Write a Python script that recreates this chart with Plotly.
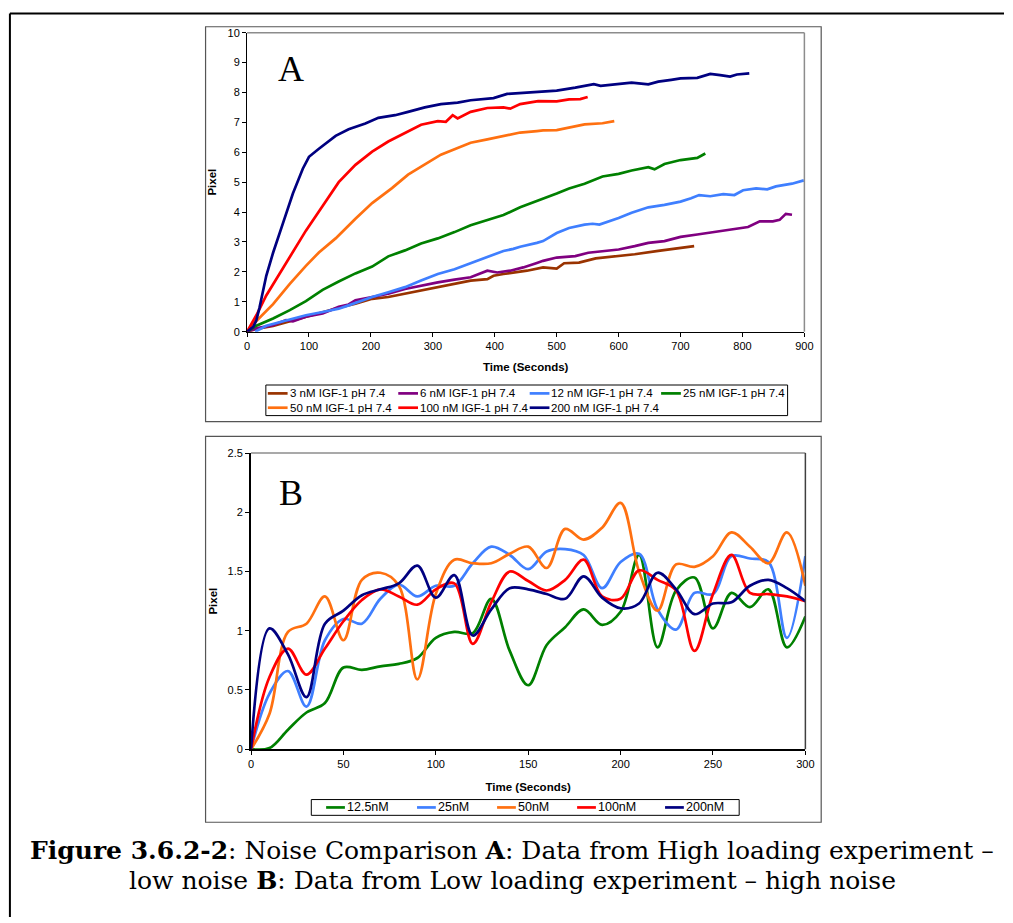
import plotly.graph_objects as go

W, H = 1013, 923

# ---------------- Panel A data ----------------
names_A = ["3 nM IGF-1 pH 7.4", "6 nM IGF-1 pH 7.4", "12 nM IGF-1 pH 7.4", "25 nM IGF-1 pH 7.4",
           "50 nM IGF-1 pH 7.4", "100 nM IGF-1 pH 7.4", "200 nM IGF-1 pH 7.4"]
colors_A = ["#993300", "#800080", "#3F7FFF", "#008000", "#FF7010", "#FF0000", "#000080"]

t_3nM = [0, 15, 42, 69, 95, 122, 148, 175, 202, 228, 255, 281, 308, 335, 361, 388, 398, 414, 441, 452,
         478, 500, 512, 536, 563, 600, 626, 664, 700, 722]
v_3nM = [0, 0.09, 0.19, 0.35, 0.5, 0.64, 0.8, 0.94, 1.1, 1.16, 1.27, 1.38, 1.49, 1.6, 1.71, 1.76, 1.87,
         1.93, 2.0, 2.04, 2.15, 2.11, 2.29, 2.31, 2.45, 2.53, 2.59, 2.7, 2.79, 2.86]

t_6nM = [0, 15, 42, 63, 74, 95, 122, 148, 164, 175, 202, 228, 255, 281, 308, 335, 361, 388, 404, 425,
         446, 468, 478, 500, 530, 551, 583, 600, 626, 648, 674, 700, 727, 748, 780, 809, 828, 849, 860,
         870, 880]
v_6nM = [0, 0.11, 0.22, 0.39, 0.35, 0.5, 0.61, 0.83, 0.91, 1.05, 1.16, 1.27, 1.43, 1.54, 1.65, 1.74,
         1.82, 2.04, 1.98, 2.04, 2.15, 2.3, 2.37, 2.48, 2.53, 2.64, 2.71, 2.75, 2.86, 2.97, 3.03, 3.17,
         3.25, 3.32, 3.41, 3.5, 3.69, 3.69, 3.74, 3.94, 3.91]

t_12nM = [13, 31, 69, 95, 122, 148, 164, 202, 228, 255, 281, 308, 335, 361, 388, 414, 430, 441, 468,
          478, 500, 520, 545, 558, 569, 600, 621, 648, 674, 700, 717, 730, 748, 769, 787, 801, 822,
          840, 854, 880, 899]
v_12nM = [0, 0.2, 0.41, 0.55, 0.66, 0.77, 0.88, 1.16, 1.32, 1.49, 1.71, 1.93, 2.09, 2.29, 2.48, 2.70,
          2.77, 2.84, 2.97, 3.03, 3.30, 3.47, 3.58, 3.61, 3.58, 3.8, 3.98, 4.16, 4.24, 4.35, 4.46, 4.57,
          4.53, 4.6, 4.57, 4.73, 4.79, 4.76, 4.86, 4.95, 5.06]

t_25nM = [0, 15, 42, 69, 95, 122, 148, 175, 202, 228, 255, 281, 308, 335, 361, 388, 414, 441, 460,
          478, 500, 520, 545, 574, 600, 621, 648, 658, 674, 700, 727, 740]
v_25nM = [0, 0.2, 0.44, 0.72, 1.02, 1.4, 1.68, 1.95, 2.18, 2.52, 2.72, 2.95, 3.12, 3.33, 3.56, 3.72,
          3.9, 4.16, 4.3, 4.44, 4.62, 4.79, 4.95, 5.19, 5.28, 5.39, 5.5, 5.43, 5.61, 5.74, 5.81, 5.96]

t_50nM = [0, 15, 42, 69, 95, 116, 143, 175, 202, 234, 260, 287, 313, 335, 361, 388, 414, 441, 468,
          478, 500, 521, 545, 574, 593]
v_50nM = [0, 0.36, 0.92, 1.6, 2.2, 2.65, 3.12, 3.78, 4.3, 4.8, 5.25, 5.6, 5.92, 6.1, 6.32, 6.43, 6.55,
          6.66, 6.71, 6.73, 6.74, 6.82, 6.93, 6.97, 7.04]

t_100nM = [0, 15, 31, 47, 69, 95, 122, 148, 175, 202, 228, 255, 281, 308, 321, 332, 340, 361, 388,
           414, 425, 441, 470, 500, 520, 538, 550]
v_100nM = [0, 0.55, 1.21, 1.76, 2.53, 3.38, 4.2, 5.0, 5.58, 6.02, 6.36, 6.64, 6.92, 7.04, 7.02, 7.24,
           7.13, 7.35, 7.48, 7.5, 7.46, 7.61, 7.71, 7.70, 7.77, 7.78, 7.85]

t_200nM = [0, 10, 15, 20, 31, 42, 58, 74, 90, 100, 116, 143, 164, 191, 212, 239, 260, 287, 313, 340,
           361, 398, 420, 441, 468, 500, 530, 541, 560, 571, 600, 621, 648, 664, 685, 700, 727, 748,
           764, 780, 791, 811]
v_200nM = [0, 0.16, 0.38, 0.8, 1.87, 2.64, 3.63, 4.62, 5.45, 5.85, 6.12, 6.55, 6.77, 6.96, 7.15, 7.24,
           7.35, 7.5, 7.61, 7.66, 7.74, 7.81, 7.95, 7.98, 8.03, 8.06, 8.16, 8.2, 8.28, 8.22, 8.28, 8.33,
           8.27, 8.36, 8.42, 8.47, 8.49, 8.62, 8.58, 8.53, 8.6, 8.64]

times_A = [t_3nM, t_6nM, t_12nM, t_25nM, t_50nM, t_100nM, t_200nM]
values_A = [v_3nM, v_6nM, v_12nM, v_25nM, v_50nM, v_100nM, v_200nM]

# ---------------- Panel B data ----------------
names_B = ["12.5nM", "25nM", "50nM", "100nM", "200nM"]
colors_B = ["#008000", "#3F7FFF", "#FF7010", "#FF0000", "#000080"]
t_B = [0, 10, 20, 30, 40, 50, 60, 70, 80, 90, 100, 110, 120, 130, 140, 150, 160, 170, 180, 190, 200,
       210, 220, 230, 240, 250, 260, 270, 280, 290, 300]
v_12_5nM = [0, 0.01, 0.165, 0.31, 0.39, 0.69, 0.67, 0.70, 0.72, 0.77, 0.94, 0.99, 0.98, 1.27, 0.83,
            0.54, 0.88, 1.03, 1.18, 1.05, 1.16, 1.64, 0.86, 1.34, 1.45, 1.02, 1.32, 1.20, 1.35, 0.86, 1.12]
v_25nM_B = [0, 0.47, 0.66, 0.36, 0.92, 1.10, 1.06, 1.27, 1.39, 1.29, 1.38, 1.38, 1.57, 1.71, 1.64,
            1.52, 1.67, 1.69, 1.64, 1.36, 1.58, 1.65, 1.18, 1.01, 1.32, 1.31, 1.63, 1.61, 1.58, 0.94, 1.63]
v_50nM_B = [0, 0.30, 0.99, 1.06, 1.29, 0.92, 1.43, 1.49, 1.38, 0.59, 1.31, 1.60, 1.57, 1.57, 1.65,
            1.71, 1.53, 1.86, 1.77, 1.87, 2.08, 1.50, 1.17, 1.56, 1.54, 1.63, 1.83, 1.71, 1.57, 1.83, 1.38]
v_100nM_B = [0, 0.61, 0.85, 0.63, 0.85, 1.08, 1.26, 1.35, 1.29, 1.22, 1.35, 1.40, 0.89, 1.24, 1.50,
             1.42, 1.34, 1.43, 1.60, 1.29, 1.27, 1.51, 1.43, 1.34, 0.83, 1.31, 1.64, 1.32, 1.31, 1.29, 1.25]
v_200nM_B = [0, 1.02, 0.80, 0.44, 1.06, 1.17, 1.30, 1.35, 1.40, 1.55, 1.28, 1.47, 0.96, 1.18, 1.36,
             1.35, 1.31, 1.27, 1.46, 1.28, 1.19, 1.23, 1.49, 1.35, 1.14, 1.23, 1.24, 1.38, 1.43, 1.36, 1.25]
values_B = [v_12_5nM, v_25nM_B, v_50nM_B, v_100nM_B, v_200nM_B]

caption_1 = "<b>Figure 3.6.2-2</b>: Noise Comparison <b>A</b>: Data from High loading experiment –"
caption_2 = "low noise <b>B</b>: Data from Low loading experiment – high noise"


def px(x):
    return x / W


def py(y):
    return 1 - y / H


fig = go.Figure()
for t, v, n, c in zip(times_A, values_A, names_A, colors_A):
    fig.add_trace(go.Scatter(x=t, y=v, name=n, mode="lines", line=dict(color=c, width=2.7),
                             xaxis="x", yaxis="y", showlegend=False))
for v, n, c in zip(values_B, names_B, colors_B):
    fig.add_trace(go.Scatter(x=t_B, y=v, name=n, mode="lines",
                             line=dict(color=c, width=2.7, shape="spline", smoothing=1.0),
                             xaxis="x2", yaxis="y2", showlegend=False))

tickfont = dict(family="Liberation Sans, Arial", size=11, color="black")
titlefont = dict(family="Liberation Sans, Arial", size=11.5, color="black")

# plot area pixel boxes
A = dict(x0=247, x1=811, y0=27, y1=330)
B = dict(x0=251, x1=812, y0=453, y1=753)

common_axis = dict(showgrid=False, zeroline=False, showline=True, linecolor="black",
                   ticks="outside", ticklen=4, tickcolor="black", tickfont=tickfont)

fig.update_layout(
    width=W, height=H,
    margin=dict(l=0, r=0, t=0, b=0),
    paper_bgcolor="white", plot_bgcolor="white",
    xaxis=dict(domain=[px(A["x0"]), px(A["x1"])], range=[0, 900], dtick=100, anchor="y",
               linewidth=1, title=dict(text="<b>Time (Seconds)</b>", font=titlefont, standoff=12),
               **common_axis),
    yaxis=dict(domain=[py(A["y1"]), py(A["y0"])], range=[0, 10], dtick=1, anchor="x",
               linewidth=1, title=dict(text="<b>Pixel</b>", font=titlefont, standoff=8),
               **common_axis),
    xaxis2=dict(domain=[px(B["x0"]), px(B["x1"])], range=[0, 300], dtick=50, anchor="y2",
                linewidth=2, title=dict(text="<b>Time (Seconds)</b>", font=titlefont, standoff=14),
                **common_axis),
    yaxis2=dict(domain=[py(B["y1"]), py(B["y0"])], range=[0, 2.5], dtick=0.5, anchor="x2",
                linewidth=2, title=dict(text="<b>Pixel</b>", font=titlefont, standoff=8),
                **common_axis),
)

shapes = []
# outer page border (left & top)
shapes.append(dict(type="line", xref="paper", yref="paper", x0=px(7), x1=1, y0=py(7.5), y1=py(7.5),
                   line=dict(color="black", width=2)))
shapes.append(dict(type="line", xref="paper", yref="paper", x0=px(7), x1=px(7), y0=py(7.5), y1=0,
                   line=dict(color="black", width=2)))
# chart frames
for (x0, y0, x1, y1) in [(205, 21, 828, 421), (205, 436, 828, 827)]:
    shapes.append(dict(type="rect", xref="paper", yref="paper", x0=px(x0), x1=px(x1), y0=py(y0),
                       y1=py(y1), line=dict(color="#555555", width=1.2), layer="below"))
# plot area borders (top/right)
for box, rc in [(A, "#8C8C8C"), (B, "#404040")]:
    shapes.append(dict(type="line", xref="paper", yref="paper", x0=px(box["x0"]), x1=px(box["x1"]),
                       y0=py(box["y0"]), y1=py(box["y0"]), line=dict(color="#8C8C8C", width=1.5)))
    shapes.append(dict(type="line", xref="paper", yref="paper", x0=px(box["x1"]), x1=px(box["x1"]),
                       y0=py(box["y0"]), y1=py(box["y1"]), line=dict(color=rc, width=1.5)))

# legend boxes
shapes.append(dict(type="rect", xref="paper", yref="paper", x0=px(266), x1=px(794), y0=py(384),
                   y1=py(415), line=dict(color="black", width=1)))
shapes.append(dict(type="rect", xref="paper", yref="paper", x0=px(312), x1=px(745), y0=py(804),
                   y1=py(820), line=dict(color="black", width=1)))

annotations = []
legfont_A = dict(family="Liberation Sans, Arial", size=11.5, color="black")
legfont_B = dict(family="Liberation Sans, Arial", size=12.5, color="black")
# legend A entries: 4 columns, 2 rows
colx_A = [268, 400, 533, 666]
rowy_A = [392.5, 407]
for i, (n, c) in enumerate(zip(names_A, colors_A)):
    cx = colx_A[i % 4]
    ry = rowy_A[i // 4]
    shapes.append(dict(type="line", xref="paper", yref="paper", x0=px(cx), x1=px(cx + 20), y0=py(ry),
                       y1=py(ry), line=dict(color=c, width=2.7)))
    annotations.append(dict(text=n, x=px(cx + 20), y=py(ry), xref="paper", yref="paper",
                            xanchor="left", yanchor="middle", showarrow=False, font=legfont_A))
# legend B entries: 1 row
colx_B = [327, 419, 500, 581, 670]
for cx, n, c in zip(colx_B, names_B, colors_B):
    shapes.append(dict(type="line", xref="paper", yref="paper", x0=px(cx), x1=px(cx + 19), y0=py(812),
                       y1=py(812), line=dict(color=c, width=2.7)))
    annotations.append(dict(text=n, x=px(cx + 19), y=py(812), xref="paper", yref="paper",
                            xanchor="left", yanchor="middle", showarrow=False, font=legfont_B))

# panel letters
serif = "Liberation Serif, Times New Roman, serif"
annotations.append(dict(text="A", x=px(291), y=py(64), xref="paper", yref="paper", showarrow=False,
                        xanchor="center", yanchor="middle",
                        font=dict(family=serif, size=36, color="black")))
annotations.append(dict(text="B", x=px(291), y=py(493), xref="paper", yref="paper", showarrow=False,
                        xanchor="center", yanchor="middle",
                        font=dict(family=serif, size=36, color="black")))
# caption
capfont = dict(family="DejaVu Serif, Liberation Serif, serif", size=25, color="black")
annotations.append(dict(text=caption_1, x=px(515), y=py(856), xref="paper", yref="paper",
                        xanchor="center", yanchor="middle", showarrow=False, font=capfont))
annotations.append(dict(text=caption_2, x=px(516), y=py(886), xref="paper", yref="paper",
                        xanchor="center", yanchor="middle", showarrow=False, font=capfont))

fig.update_layout(shapes=shapes, annotations=annotations)
fig.write_html("out.html")
